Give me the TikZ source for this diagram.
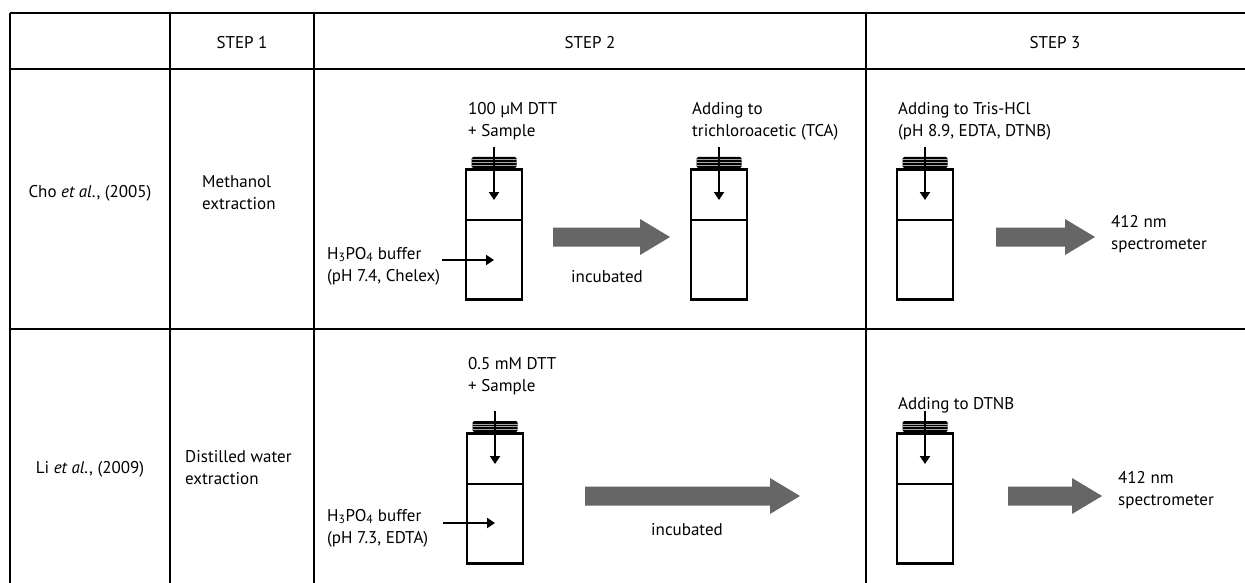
\documentclass[tikz,border=0pt]{standalone}
\usepackage{fontspec}
\setmainfont{PT Sans}
\usetikzlibrary{arrows.meta,positioning}
\definecolor{arrowgray}{RGB}{102,102,102}

\begin{document}
\begin{tikzpicture}[x=1pt,y=-1pt,
  grid/.style={line width=2.8pt,black},
  txt/.style={font=\fontsize{17}{22}\selectfont,inner sep=0pt,align=left,anchor=west},
  head/.style={font=\fontsize{17}{22}\selectfont,inner sep=0pt},
  vialbody/.style={draw,line width=2.6pt,minimum width=56pt,minimum height=130pt,
                   inner sep=0pt,anchor=north},
  feed/.style={-{Triangle[length=8pt,width=10pt]},line width=2.3pt},
  bigarrow/.style={fill=arrowgray}
]
\useasboundingbox (0,0) rectangle (1245,583);

% Table grid
\draw[line width=2.2pt] (10,13) -- (1245,13);
\draw[grid] (10,69) -- (1245,69);
\draw[grid] (10,329) -- (1245,329);
\foreach \cx in {10,170,314,866}
  \draw[grid] (\cx,13) -- (\cx,583);

% Header
\node[head] (hstep1) at (242,43) {STEP 1};
\node[head] (hstep2) at (590,43) {STEP 2};
\node[head] (hstep3) at (1055,43) {STEP 3};

% Row labels
\node[head] (cho) at (90,193) {Cho \textit{et al}., (2005)};
\node[txt] (cho-ext) at (202,193) {Methanol\\extraction};
\node[head] (li) at (90,469) {Li \textit{et al}., (2009)};
\node[txt] (li-ext) at (185,468) {Distilled water\\extraction};

% Vials
\foreach \n/\x/\y in {cho2a/494/168, cho2b/719/168, cho3/925/168, li2/495/432, li3/925/432} {
  \node[vialbody] (\n) at (\x,\y) {};
  \draw[line width=2.6pt] (\x-28,\y+52) -- (\x+28,\y+52);
  \fill[rounded corners=1.5pt] (\x-22.5,\y) rectangle (\x+22.5,\y-11);
  \foreach \k in {1,...,3}
    \draw[gray!70,line width=0.5pt] (\x-22.5,\y-\k*2.75) -- (\x+22.5,\y-\k*2.75);
  \coordinate (\n-top) at (\x,\y-21);
  \coordinate (\n-in) at (\x,\y+32);
  \draw[feed] (\n-top) -- (\n-in);
}

% Buffer feeds
\coordinate (cho2a-buf) at (442,260);
\coordinate (cho2a-mid) at (494,260);
\draw[feed] (cho2a-buf) -- (cho2a-mid);
\coordinate (li2-buf) at (443,523);
\coordinate (li2-mid) at (495,523);
\draw[feed] (li2-buf) -- (li2-mid);

% Labels, Cho
\node[txt] (cho-dtt) at (468,121) {100 µM DTT\\+ Sample};
\node[txt] (cho-buf) at (327,266) {H\textsubscript{3}PO\textsubscript{4} buffer\\(pH 7.4, Chelex)};
\node[head] (cho-inc) at (607,277) {incubated};
\node[txt] (cho-tca) at (692,121) {Adding to\\trichloroacetic (TCA)};
\node[txt] (cho-tris) at (898,121) {Adding to Tris-HCl\\(pH 8.9, EDTA, DTNB)};
\node[txt] (cho-spec) at (1111,234) {412 nm\\spectrometer};

% Labels, Li
\node[txt] (li-dtt) at (468,376) {0.5 mM DTT\\+ Sample};
\node[txt] (li-buf) at (327,528) {H\textsubscript{3}PO\textsubscript{4} buffer\\(pH 7.3, EDTA)};
\node[head] (li-inc) at (687,530) {incubated};
\node[txt] (li-dtnb) at (898,405) {Adding to DTNB};
\node[txt] (li-spec) at (1118,490) {412 nm\\spectrometer};

% Process arrows
\foreach \xa/\xh/\xt/\yc in {553/640/670/237, 996/1065/1095/237, 585/770/800/496, 1008/1072/1102/496}
  \fill[bigarrow] (\xa,\yc-9.5) -- (\xh,\yc-9.5) -- (\xh,\yc-18) -- (\xt,\yc)
    -- (\xh,\yc+18) -- (\xh,\yc+9.5) -- (\xa,\yc+9.5) -- cycle;

\end{tikzpicture}
\end{document}
